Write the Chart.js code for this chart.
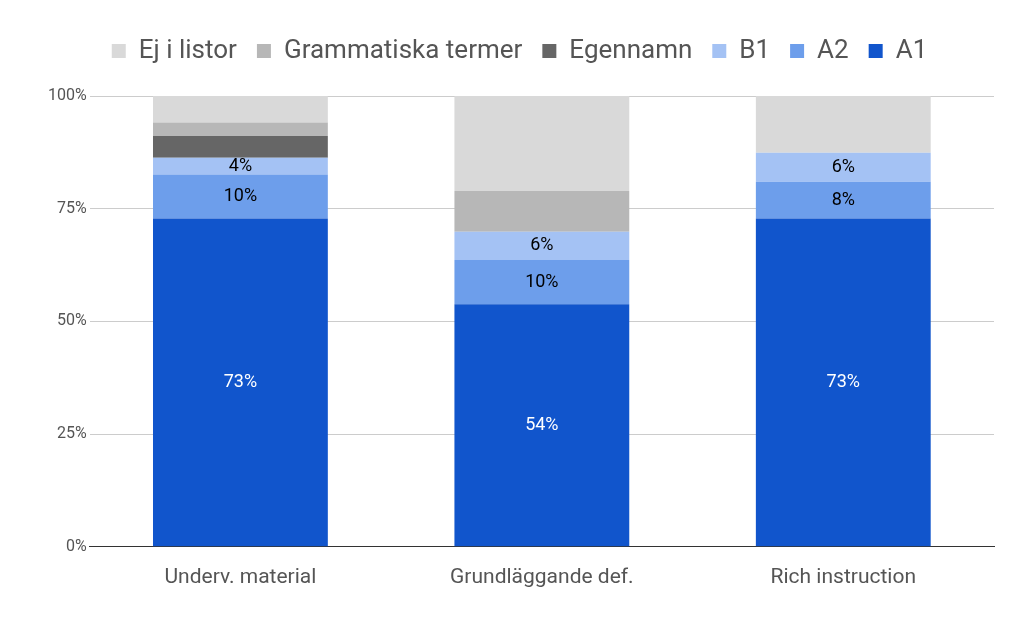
<!DOCTYPE html>
<html><head><meta charset="utf-8">
<script src="https://cdn.jsdelivr.net/npm/chart.js@4"></script>
<style>html,body{margin:0;padding:0;background:#fff}#w{width:1024px;height:633px}</style>
</head><body><div id="w"><canvas id="c"></canvas></div>
<script>
const categories = ["Underv. material", "Grundläggande def.", "Rich instruction"];
const A1 = [72.8, 53.8, 72.8];
const A2 = [9.8, 9.8, 8.2];
const B1 = [3.7, 6.3, 6.4];
const Egennamn = [4.8, 0, 0];
const Grammatiska = [3.0, 9.0, 0];
const EjIListor = [5.9, 21.1, 12.6];
const A1Labels = ["73%", "54%", "73%"];
const A2Labels = ["10%", "10%", "8%"];
const B1Labels = ["4%", "6%", "6%"];

const labelPlugin = {
  id: 'lbl',
  afterInit(chart) {
    const lg = chart.legend;
    if (lg) { const orig = lg.fit; lg.fit = function(){ orig.call(this); this.height += 22; }; }
  },
  afterDatasetsDraw(chart) {
    const ctx = chart.ctx;
    const sets = [[0, A1Labels, '#fff'], [1, A2Labels, '#000'], [2, B1Labels, '#000']];
    ctx.save();
    ctx.font = '18px Roboto';
    ctx.textAlign = 'center'; ctx.textBaseline = 'middle';
    sets.forEach(([di, labs, col]) => {
      chart.getDatasetMeta(di).data.forEach((bar, i) => {
        ctx.fillStyle = col;
        ctx.fillText(labs[i], bar.x, (bar.y + bar.base) / 2);
      });
    });
    ctx.restore();
  }
};

new Chart(document.getElementById('c'), {
  type: 'bar',
  data: {
    labels: categories,
    datasets: [
      {label: 'A1', data: A1, backgroundColor: '#1155cc'},
      {label: 'A2', data: A2, backgroundColor: '#6d9eeb'},
      {label: 'B1', data: B1, backgroundColor: '#a4c2f4'},
      {label: 'Egennamn', data: Egennamn, backgroundColor: '#666666'},
      {label: 'Grammatiska termer', data: Grammatiska, backgroundColor: '#b7b7b7'},
      {label: 'Ej i listor', data: EjIListor, backgroundColor: '#d9d9d9'}
    ]
  },
  options: {
    responsive: true, maintainAspectRatio: false, animation: false,
    layout: {padding: {left: 45, right: 30, top: 18, bottom: 33}},
    datasets: {bar: {barPercentage: 0.58, categoryPercentage: 1}},
    plugins: {
      legend: {reverse: true, labels: {font: {family: 'Roboto', size: 26}, color: '#555', boxWidth: 14, boxHeight: 14, padding: 20}},
      tooltip: {enabled: false}
    },
    scales: {
      x: {stacked: true, grid: {display: false}, border: {color: '#333'},
          ticks: {padding: 10, font: {family: 'Roboto', size: 21}, color: '#555'}},
      y: {stacked: true, min: 0, max: 100,
          ticks: {stepSize: 25, callback: v => v + '%', font: {family: 'Roboto', size: 16}, color: '#555'},
          grid: {color: '#ccc', drawTicks: false}, border: {display: false}}
    }
  },
  plugins: [labelPlugin]
});
</script></body></html>
